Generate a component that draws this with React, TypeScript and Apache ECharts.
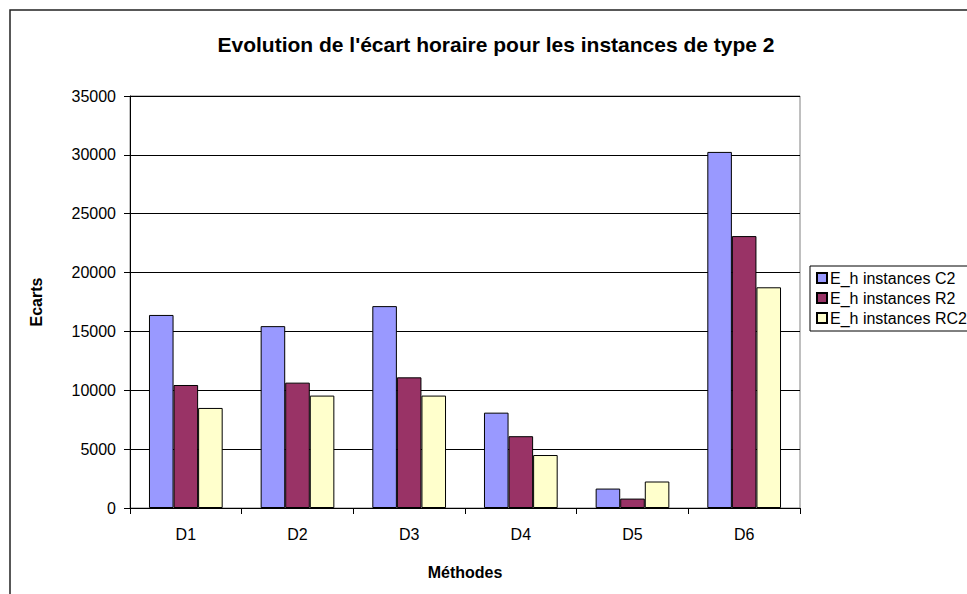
import React, { useEffect, useRef } from "react";
import * as echarts from "echarts";

const categories = ["D1", "D2", "D3", "D4", "D5", "D6"];
const seriesNames = ["E_h instances C2", "E_h instances R2", "E_h instances RC2"];
const valuesC2 = [16400, 15450, 17150, 8100, 1650, 30250];
const valuesR2 = [10450, 10650, 11100, 6100, 800, 23100];
const valuesRC2 = [8500, 9550, 9550, 4500, 2250, 18750];
const colors = ["#9999FF", "#993366", "#FFFFCC"];
const yTicks = { min: 0, max: 35000, interval: 5000 };

const FONT = "Liberation Sans, Arial, sans-serif";

export default function App() {
  const ref = useRef<HTMLDivElement>(null);
  useEffect(() => {
    if (!ref.current) return;
    const chart = echarts.init(ref.current, null, { renderer: "svg" });
    const data = [valuesC2, valuesR2, valuesRC2];
    chart.setOption({
      animation: false,
      backgroundColor: "#ffffff",
      textStyle: { fontFamily: FONT, color: "#000" },
      title: {
        text: "Evolution de l'écart horaire pour les instances de type 2",
        left: 491,
        top: 29,
        textAlign: "center",
        textStyle: { fontFamily: FONT, fontSize: 21, fontWeight: "bold", color: "#000" },
      },
      graphic: [
        {
          type: "rect",
          shape: { x: 10, y: 10, width: 1000, height: 1000 },
          style: { fill: "none", stroke: "#222", lineWidth: 1.5 },
          silent: true,
        },
      ],
      legend: {
        orient: "vertical",
        left: 810,
        top: 266,
        data: seriesNames,
        icon: "rect",
        itemWidth: 10,
        itemHeight: 10,
        itemGap: 4,
        padding: [4, 40, 5, 6],
        borderColor: "#000",
        borderWidth: 1,
        backgroundColor: "#fff",
        textStyle: { fontFamily: FONT, fontSize: 16, lineHeight: 16, color: "#000", padding: [0, 0, 0, -2] },
      },
      grid: {
        left: 130,
        right: 167,
        top: 96,
        bottom: 86,
        show: true,
        borderColor: "#808080",
        borderWidth: 1,
        backgroundColor: "transparent",
      },
      xAxis: {
        type: "category",
        data: categories,
        name: "Méthodes",
        nameLocation: "middle",
        nameGap: 56,
        nameTextStyle: { fontFamily: FONT, fontSize: 16, fontWeight: "bold", color: "#000" },
        axisLine: { lineStyle: { color: "#000", width: 1 } },
        axisTick: { show: true, length: 6, lineStyle: { color: "#000" } },
        axisLabel: { fontFamily: FONT, fontSize: 16, color: "#000", margin: 18 },
      },
      yAxis: {
        type: "value",
        min: yTicks.min,
        max: yTicks.max,
        interval: yTicks.interval,
        name: "Ecarts",
        nameLocation: "middle",
        nameGap: 86,
        nameRotate: 90,
        nameTextStyle: { fontFamily: FONT, fontSize: 16, fontWeight: "bold", color: "#000" },
        axisLine: { show: true, lineStyle: { color: "#000", width: 1 } },
        axisTick: { show: true, length: 6, lineStyle: { color: "#000" } },
        axisLabel: { fontFamily: FONT, fontSize: 16, color: "#000", margin: 14, formatter: (v: number) => String(v) },
        splitLine: { show: true, lineStyle: { color: "#000", width: 1 } },
      },
      series: seriesNames.map((name, i) => ({
        name,
        type: "bar",
        data: data[i],
        barGap: "0%",
        barCategoryGap: "34%",
        itemStyle: { color: colors[i], borderColor: "#000", borderWidth: 1 },
      })),
    });
    return () => chart.dispose();
  }, []);
  return <div ref={ref} style={{ width: 967, height: 594, position: "absolute", left: 0, top: 0 }} />;
}
